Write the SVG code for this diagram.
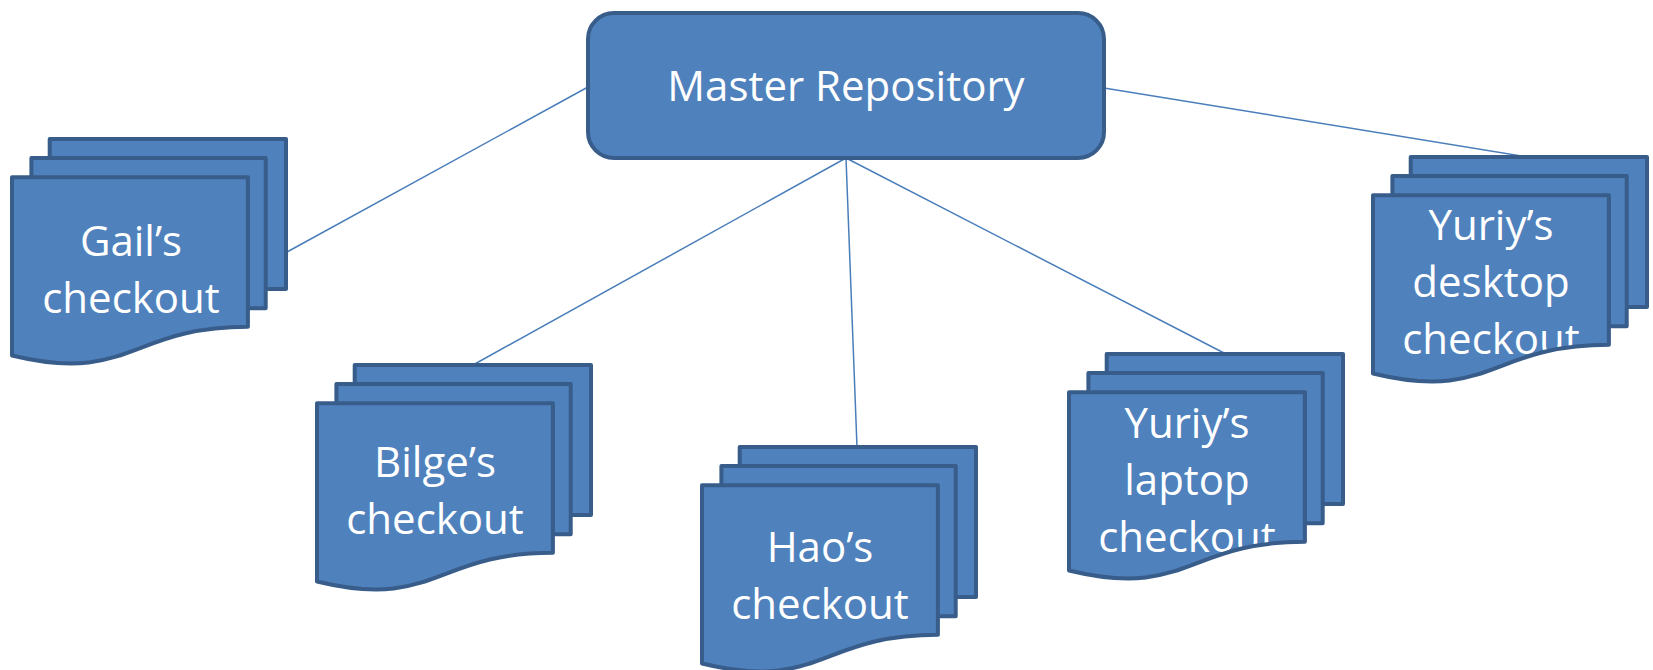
<svg xmlns="http://www.w3.org/2000/svg" xmlns:xlink="http://www.w3.org/1999/xlink" width="1653" height="670" viewBox="0 0 1653 670">
  <style>
    .page { fill: #4F81BD; stroke: #385D8A; stroke-width: 4; stroke-linejoin: round; }
    .front-fill { fill: #4F81BD; stroke: none; }
    .front-edge { fill: none; stroke: #385D8A; stroke-width: 4; stroke-linejoin: round; }
    .repo { fill: #4F81BD; stroke: #385D8A; stroke-width: 4; }
    .label { font-family: "Open Sans", "Noto Sans", "Liberation Sans", sans-serif; font-size: 42px; fill: #FFFFFF; text-anchor: middle; }
    .link { stroke: #4A7EBB; stroke-width: 1.5; fill: none; }
  </style>
  <defs>
    <!-- stacked-document shape, local coordinates: 274 x 225 -->
    <rect id="back" x="37.7" y="0" width="236.3" height="149.9"/>
    <rect id="mid" x="19.4" y="18.9" width="234.3" height="150.4"/>
    <path id="front" d="M0,38.3 L235.9,38.3 L235.9,187.7 C117.9,187.7 117.9,245.2 0,216.5 Z"/>
  </defs>

  <g id="connectors">
    <line class="link" x1="588" y1="87" x2="287" y2="252"/>
    <line class="link" x1="846" y1="158" x2="473" y2="365"/>
    <line class="link" x1="846" y1="158" x2="857" y2="447"/>
    <line class="link" x1="846" y1="158" x2="1224" y2="353"/>
    <line class="link" x1="1104" y1="88" x2="1528" y2="157"/>
  </g>

  <g id="master">
    <rect class="repo" x="588" y="13" width="516" height="145" rx="26" ry="26"/>
    <text class="label" x="846" y="101">Master Repository</text>
  </g>

  <g id="gail" transform="translate(12,139)">
    <use xlink:href="#back" class="page"/>
    <use xlink:href="#mid" class="page"/>
    <use xlink:href="#front" class="front-fill"/>
    <text class="label" x="119" y="117">Gail’s</text>
    <text class="label" x="119" y="174">checkout</text>
    <use xlink:href="#front" class="front-edge"/>
  </g>

  <g id="bilge" transform="translate(317,365)">
    <use xlink:href="#back" class="page"/>
    <use xlink:href="#mid" class="page"/>
    <use xlink:href="#front" class="front-fill"/>
    <text class="label" x="118" y="112">Bilge’s</text>
    <text class="label" x="118" y="169">checkout</text>
    <use xlink:href="#front" class="front-edge"/>
  </g>

  <g id="hao" transform="translate(702,447)">
    <use xlink:href="#back" class="page"/>
    <use xlink:href="#mid" class="page"/>
    <use xlink:href="#front" class="front-fill"/>
    <text class="label" x="118" y="115">Hao’s</text>
    <text class="label" x="118" y="172">checkout</text>
    <use xlink:href="#front" class="front-edge"/>
  </g>

  <g id="yuriy-laptop" transform="translate(1069,354)">
    <use xlink:href="#back" class="page"/>
    <use xlink:href="#mid" class="page"/>
    <use xlink:href="#front" class="front-fill"/>
    <text class="label" x="118" y="84">Yuriy’s</text>
    <text class="label" x="118" y="141">laptop</text>
    <text class="label" x="118" y="198">checkout</text>
    <use xlink:href="#front" class="front-edge"/>
  </g>

  <g id="yuriy-desktop" transform="translate(1373,157)">
    <use xlink:href="#back" class="page"/>
    <use xlink:href="#mid" class="page"/>
    <use xlink:href="#front" class="front-fill"/>
    <text class="label" x="118" y="83">Yuriy’s</text>
    <text class="label" x="118" y="140">desktop</text>
    <text class="label" x="118" y="197">checkout</text>
    <use xlink:href="#front" class="front-edge"/>
  </g>
</svg>
